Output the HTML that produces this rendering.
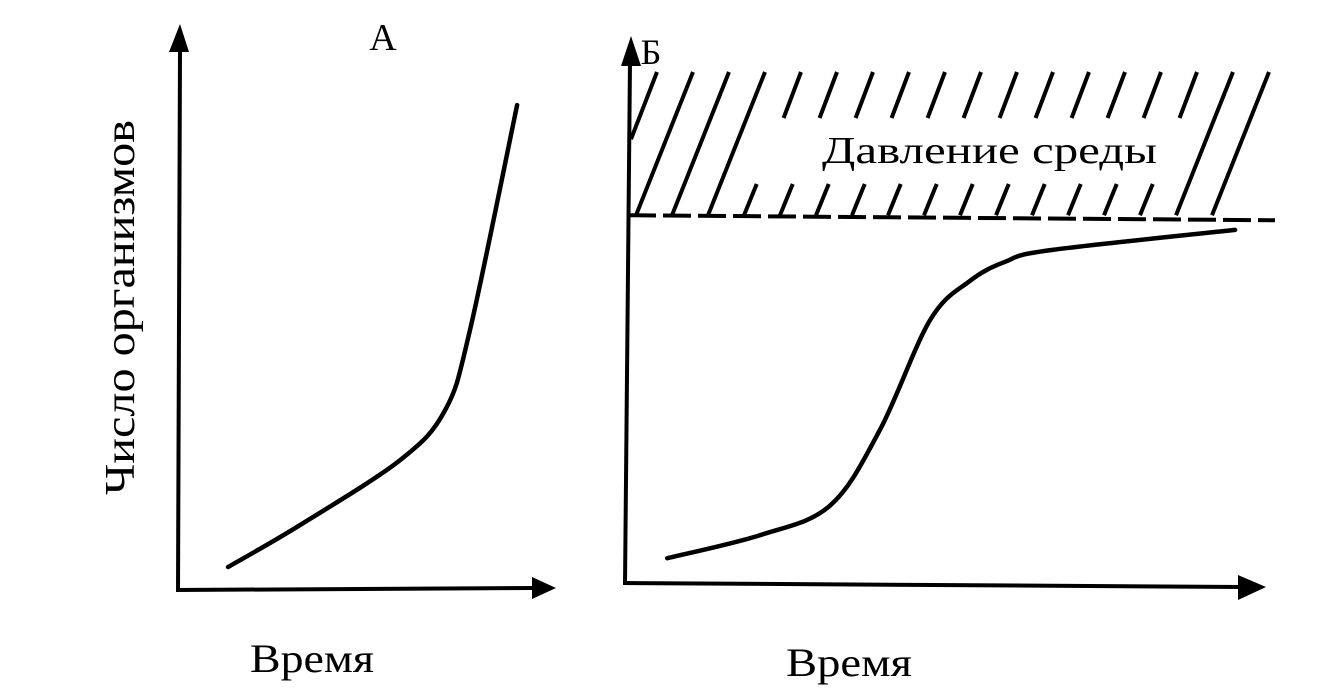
<!DOCTYPE html>
<html><head><meta charset="utf-8"><style>
html,body{margin:0;padding:0;background:#fff;width:1344px;height:696px;overflow:hidden}
svg text{font-family:"Liberation Serif","Noto Serif CJK SC",serif;fill:#000}
</style></head><body>
<svg id="chart" width="1344" height="696" viewBox="0 0 1344 696" xmlns="http://www.w3.org/2000/svg">
<g id="panelA">
<line x1="178" y1="592" x2="180" y2="50" stroke="#000" stroke-width="4"/>
<polygon points="169,52 189,52 180,24" fill="#000"/>
<line x1="176" y1="590" x2="535" y2="588" stroke="#000" stroke-width="4"/>
<polygon points="532,577 532,599 556,588" fill="#000"/>
<text x="383" y="50" font-size="38" text-anchor="middle">А</text>
<text x="250" y="672" font-size="40" textLength="124" lengthAdjust="spacingAndGlyphs">Время</text>
<text transform="translate(134,495) rotate(-90)" font-size="42" textLength="375" lengthAdjust="spacingAndGlyphs">Число организмов</text>
</g>
<g id="panelB">
<line x1="625" y1="585" x2="630" y2="62" stroke="#000" stroke-width="4"/>
<polygon points="621,66 641,66 631,36" fill="#000"/>
<line x1="623" y1="583" x2="1242" y2="587" stroke="#000" stroke-width="4"/>
<polygon points="1238,575 1238,600 1266,587" fill="#000"/>
<text x="651" y="64" font-size="36" text-anchor="middle">Б</text>
<text x="786" y="676" font-size="40" textLength="126" lengthAdjust="spacingAndGlyphs">Время</text>
<text x="822" y="163" font-size="38" textLength="335" lengthAdjust="spacingAndGlyphs">Давление среды</text>
</g>
</svg>
<script>
// Data (time %, population %)
const timeA = [13.9, 33.9, 61.7, 74.2, 81.1, 94.2];
const popA  = [4.1, 11.6, 23.2, 32.1, 46.4, 86.6];
const timeB = [6.8, 21.8, 33.1, 41.1, 49.2, 55.6, 61.3, 68.5, 98.4];
const popB  = [4.5, 8.7, 14.1, 27.8, 47.8, 54.9, 58.4, 60.5, 64.2];
const capacityB = [66.5];

const NS = "http://www.w3.org/2000/svg";
const xA = t => 178 + t * 3.6, yA = v => 590 - v * 5.6;
const xB = t => 625 + t * 6.2, yB = v => 583 - v * 5.5;

function smoothPath(pts){
  let d = "M" + pts[0][0] + "," + pts[0][1];
  for (let i = 0; i < pts.length - 1; i++) {
    const p0 = pts[i-1] || pts[i], p1 = pts[i], p2 = pts[i+1], p3 = pts[i+2] || p2;
    const c1 = [p1[0] + (p2[0]-p0[0])/6, p1[1] + (p2[1]-p0[1])/6];
    const c2 = [p2[0] - (p3[0]-p1[0])/6, p2[1] - (p3[1]-p1[1])/6];
    d += " C" + c1 + " " + c2 + " " + p2;
  }
  return d;
}
const gA = document.getElementById('panelA');
const gB = document.getElementById('panelB');

const pathA = document.createElementNS(NS, 'path');


pathA.setAttribute('d', smoothPath(timeA.map((t,i)=>[xA(t), yA(popA[i])])));
pathA.setAttribute('fill', 'none'); pathA.setAttribute('stroke', '#000'); pathA.setAttribute('stroke-width', '4.5'); pathA.setAttribute('stroke-linecap', 'round');
gA.appendChild(pathA);

const pathB = document.createElementNS(NS, 'path');


pathB.setAttribute('d', smoothPath(timeB.map((t,i)=>[xB(t), yB(popB[i])])));
pathB.setAttribute('fill', 'none'); pathB.setAttribute('stroke', '#000'); pathB.setAttribute('stroke-width', '4.5'); pathB.setAttribute('stroke-linecap', 'round');
gB.appendChild(pathB);

// carrying capacity dashed line
const capY = yB(capacityB[0]);
const cap = document.createElementNS(NS, 'line');


cap.setAttribute('x1', 628); cap.setAttribute('x2', 1275);
cap.setAttribute('y1', capY - 2); cap.setAttribute('y2', capY + 3);
cap.setAttribute('stroke', '#000'); cap.setAttribute('stroke-width', '4');
cap.setAttribute('stroke-dasharray', '28,7');
gB.appendChild(cap);

// hatching
for (let i = 0; i < 18; i++) {
  const bx = 600 + i * 36, by = capY - 2;
  const tx = bx + 57, ty = 72;
  let x1 = bx, y1 = by;
  if (x1 < 631) { y1 = by - (631 - bx) * (140/57); x1 = 631; }
  const segs = (i >= 4 && i <= 15) ? [[x1,y1,bx+57*(by-184)/140,184],[bx+57*(by-118)/140,118,tx,ty]] : [[x1,y1,tx,ty]];
  segs.forEach(s => {
    const ln = document.createElementNS(NS, 'line');
    
    
    ln.setAttribute('x1', s[0]); ln.setAttribute('y1', s[1]); ln.setAttribute('x2', s[2]); ln.setAttribute('y2', s[3]);
    ln.setAttribute('stroke', '#000'); ln.setAttribute('stroke-width', '4');
    gB.appendChild(ln);
  });
}
</script>
</body></html>
